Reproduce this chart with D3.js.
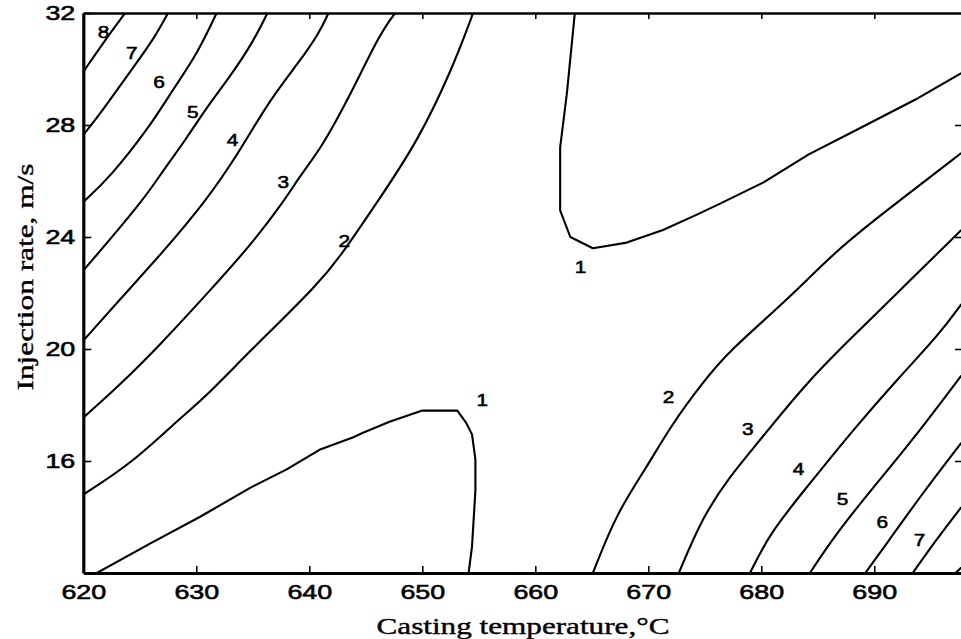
<!DOCTYPE html>
<html>
<head>
<meta charset="utf-8">
<script src="https://cdnjs.cloudflare.com/ajax/libs/d3/7.8.5/d3.min.js"></script>
<style>
  body { margin: 0; background: #fff; }
  svg { display: block; }
</style>
</head>
<body>
<svg id="chart" width="961" height="639"></svg>
<script>
// Axis extents and ticks
const xDomain = [620, 697.7];
const yDomain = [12, 32];
const xTicks = [620, 630, 640, 650, 660, 670, 680, 690];
const yTicks = [16, 20, 24, 28, 32];
const topTicks = [630, 640, 650, 660, 670, 680, 690];
const rightTicks = [16, 20, 24, 28];

// Contour lines: [casting temperature °C, injection rate m/s]
// Upper-left family
const lvl8a = [[620, 29.9], [622.4, 31.3], [623.7, 32]];
const lvl7a = [[620, 27.65], [621.5, 28.4], [624.4, 30.05], [626.2, 31.05], [627.5, 32]];
const lvl6a = [[620, 25.25], [622.4, 26.15], [625.9, 27.95], [627.9, 29.25], [630.1, 30.55], [631.8, 32]];
const lvl5a = [[620, 22.8], [625.3, 25.3], [627.1, 26.4], [629.2, 27.55], [630.6, 28.45], [633.2, 29.85], [635.0, 30.95], [636.3, 32]];
const lvl4a = [[620, 20.3], [623.2, 21.75], [626.8, 23.35], [630.9, 25.3], [633.9, 27.1], [636.5, 28.9], [639.2, 30.3], [640.9, 31.3], [641.7, 32]];
const lvl3a = [[620, 17.55], [623.2, 18.7], [626.8, 20.15], [630.9, 21.95], [634.8, 23.7], [637.8, 25.3], [639.2, 26.2], [641.1, 27.2], [643.6, 29.05], [646.3, 31.3], [647.6, 32]];
const lvl2a = [[620, 14.8], [624.4, 15.95], [628.6, 17.55], [630.6, 18.2], [634.8, 19.95], [640.9, 22.35], [643.0, 23.45], [646.1, 25.3], [649.5, 27.35], [652.6, 29.95], [654.5, 32]];
// The two level-1 pockets
const lvl1a = [[621.2, 12], [625.9, 13.05], [630.3, 14.0], [634.8, 15.05], [638.0, 15.7], [640.9, 16.4], [643.9, 16.85], [644.7, 17.0], [647.1, 17.4], [650.0, 17.8], [653.1, 17.8], [653.9, 17.35], [654.4, 16.95], [654.7, 16.05], [654.7, 14.95], [654.4, 12.95], [654.1, 12]];
const lvl1b = [[663.5, 32], [662.8, 29.15], [662.2, 27.2], [662.2, 24.95], [663.1, 24.0], [665.1, 23.6], [668.1, 23.8], [671.3, 24.25], [674.3, 24.8], [676.4, 25.2], [680.2, 25.95], [684.2, 26.95], [688.8, 27.9], [693.6, 28.9], [697.7, 29.85]];
// Lower-right family
const lvl2b = [[665.1, 12], [667.2, 14.15], [669.9, 15.8], [671.9, 17.2], [674.8, 18.8], [677.2, 19.95], [682.3, 21.75], [686.7, 23.55], [691.1, 24.95], [697.7, 27.0]];
const lvl3b = [[672.7, 12], [674.8, 14.0], [677.2, 15.45], [679.9, 16.75], [684.0, 18.8], [688.1, 20.45], [691.4, 21.75], [697.7, 24.25]];
const lvl4b = [[679.0, 12], [680.8, 13.45], [684.0, 15.05], [688.1, 17.1], [692.0, 18.9], [695.8, 20.55], [697.7, 21.6]];
const lvl5b = [[684.3, 12], [686.7, 13.45], [689.9, 15.05], [693.4, 16.75], [697.7, 19.05]];
const lvl6b = [[689.2, 12], [691.1, 13.05], [694.0, 14.7], [697.7, 16.65]];
const lvl7b = [[693.4, 12], [695.5, 13.2], [697.7, 14.35]];
const lvl8b = [[697.2, 12], [697.7, 12.2]];

// Smooth bands and the two angular level-1 pockets
const smoothLines = [lvl8a, lvl7a, lvl6a, lvl5a, lvl4a, lvl3a, lvl2a, lvl2b, lvl3b, lvl4b, lvl5b, lvl6b, lvl7b, lvl8b];
const pocketLines = [lvl1a, lvl1b];

// Contour level labels
const labelT = [621.8, 624.3, 626.7, 629.7, 633.2, 637.7, 643.1, 664.0, 655.3, 671.8, 678.8, 683.3, 687.2, 690.7, 694.0];
const labelR = [31.32, 30.57, 29.54, 28.46, 27.46, 25.96, 23.86, 22.93, 18.18, 18.29, 17.14, 15.71, 14.64, 13.82, 13.18];
const labelText = ["8", "7", "6", "5", "4", "3", "2", "1", "1", "2", "3", "4", "5", "6", "7"];

const xTitle = "Casting temperature,\u00B0C";
const yTitle = "Injection rate, m/s";

const svg = d3.select("#chart");
const plotLeft = 83.3, plotRight = 961.3, plotTop = 13, plotBottom = 573;

const x = d3.scaleLinear().domain(xDomain).range([plotLeft, plotRight]);
const y = d3.scaleLinear().domain(yDomain).range([plotBottom, plotTop]);

// Widen a text element horizontally by a factor
function stretch(sel, k) {
  sel.each(function () {
    const w = this.getComputedTextLength();
    d3.select(this).attr("textLength", w * k).attr("lengthAdjust", "spacingAndGlyphs");
  });
}

// Clip for contour lines
svg.append("clipPath").attr("id", "plot-clip")
  .append("rect").attr("x", plotLeft).attr("y", plotTop)
  .attr("width", plotRight - plotLeft).attr("height", plotBottom - plotTop);

const smoothLine = d3.line().x(d => x(d[0])).y(d => y(d[1])).curve(d3.curveBasis);
const sharpLine = d3.line().x(d => x(d[0])).y(d => y(d[1]));

const gLines = svg.append("g").attr("clip-path", "url(#plot-clip)")
  .attr("fill", "none").attr("stroke", "#000").attr("stroke-width", 2.1).attr("stroke-linejoin", "round");
gLines.selectAll("path.smooth").data(smoothLines).join("path").attr("class", "smooth").attr("d", smoothLine);
gLines.selectAll("path.pocket").data(pocketLines).join("path").attr("class", "pocket").attr("d", sharpLine);

// Contour labels
const labels = svg.append("g")
  .selectAll("text").data(labelText).join("text")
  .attr("x", (d, i) => x(labelT[i]))
  .attr("y", (d, i) => y(labelR[i]))
  .attr("dy", "0.36em")
  .attr("text-anchor", "middle")
  .attr("font-family", "'Liberation Sans', Arial, sans-serif")
  .attr("font-size", 16)
  .attr("fill", "#000")
  .attr("stroke", "#000").attr("stroke-width", 0.55)
  .text(d => d);
stretch(labels, 1.3);

const tickFont = "'Liberation Sans', Arial, sans-serif";

// Bottom axis
const gx = svg.append("g").attr("transform", `translate(0,${plotBottom})`)
  .call(d3.axisBottom(x).tickValues(xTicks).tickSizeInner(-7).tickSizeOuter(0).tickPadding(11).tickFormat(d3.format("d")));
gx.select(".domain").attr("stroke-width", 3.2);
gx.selectAll(".tick line").attr("stroke-width", 1.6);
gx.selectAll(".tick text").attr("font-family", tickFont).attr("font-size", 21).attr("fill", "#000")
  .attr("stroke", "#000").attr("stroke-width", 0.6);
stretch(gx.selectAll(".tick text"), 1.28);

// Left axis
const gy = svg.append("g").attr("transform", `translate(${plotLeft},0)`)
  .call(d3.axisLeft(y).tickValues(yTicks).tickSizeInner(-8).tickSizeOuter(0).tickPadding(8).tickFormat(d3.format("d")));
gy.select(".domain").attr("stroke-width", 3.2);
gy.selectAll(".tick line").attr("stroke-width", 1.6);
gy.selectAll(".tick text").attr("font-family", tickFont).attr("font-size", 21).attr("fill", "#000")
  .attr("stroke", "#000").attr("stroke-width", 0.6);
stretch(gy.selectAll(".tick text"), 1.28);

// Top axis (ticks only)
const gt = svg.append("g").attr("transform", `translate(0,${plotTop})`)
  .call(d3.axisTop(x).tickValues(topTicks).tickSizeInner(-6).tickSizeOuter(0).tickFormat(""));
gt.select(".domain").attr("stroke-width", 2.6);
gt.selectAll(".tick line").attr("stroke-width", 1.6);

// Right side (ticks only, no spine)
const gr = svg.append("g").attr("transform", `translate(${plotRight - 0.3},0)`)
  .call(d3.axisRight(y).tickValues(rightTicks).tickSizeInner(-6).tickSizeOuter(0).tickFormat(""));
gr.select(".domain").remove();
gr.selectAll(".tick line").attr("stroke-width", 1.6);

// Axis titles
svg.append("text")
  .attr("x", 523).attr("y", 634)
  .attr("text-anchor", "middle")
  .attr("font-family", "'Liberation Serif', 'Times New Roman', serif")
  .attr("font-size", 24)
  .attr("fill", "#000")
  .attr("stroke", "#000").attr("stroke-width", 0.4)
  .attr("textLength", 293).attr("lengthAdjust", "spacingAndGlyphs")
  .text(xTitle);

svg.append("text")
  .attr("transform", "translate(33,277) rotate(-90)")
  .attr("text-anchor", "middle")
  .attr("font-family", "'Liberation Serif', 'Times New Roman', serif")
  .attr("font-size", 24)
  .attr("fill", "#000")
  .attr("stroke", "#000").attr("stroke-width", 0.4)
  .attr("textLength", 227).attr("lengthAdjust", "spacingAndGlyphs")
  .text(yTitle);
</script>
</body>
</html>
